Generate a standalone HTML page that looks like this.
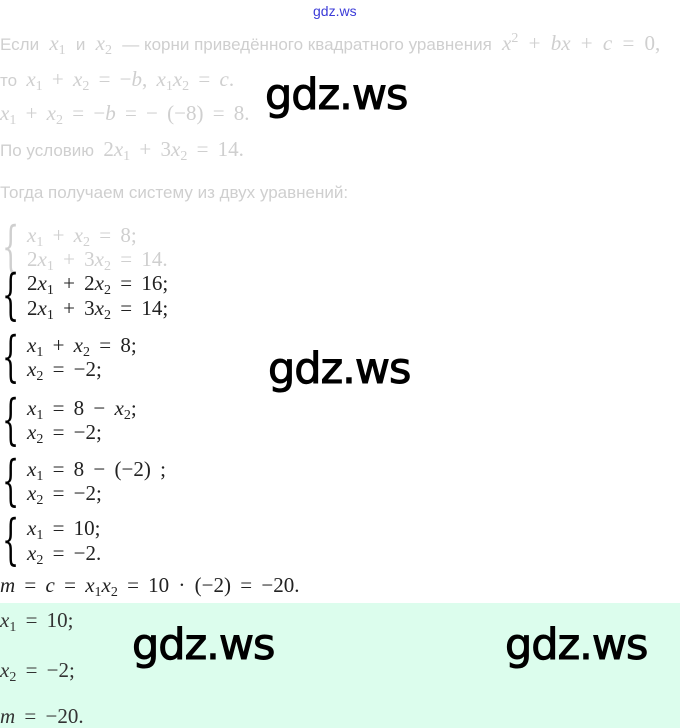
<!DOCTYPE html>
<html><head><meta charset="utf-8"><style>
body{margin:0;width:680px;height:728px;background:#fff;position:relative;overflow:hidden;font-family:"Liberation Serif",serif;}
.t{position:absolute;white-space:nowrap;line-height:24px;font-size:21px;color:#222;word-spacing:4px;}
.s{font-family:"Liberation Sans",sans-serif;font-size:17px;word-spacing:0;}
.f{color:#cfcfcf;}
i{font-style:italic;}
sub{font-size:14px;vertical-align:-4px;line-height:0;}
sup{font-size:14px;vertical-align:8px;line-height:0;}
.br{position:absolute;font-size:54px;line-height:54px;font-family:"DejaVu Serif",serif;font-weight:100;transform:scaleX(0.5);transform-origin:left;}
.wm{position:absolute;font-family:"DejaVu Sans","Liberation Sans",sans-serif;font-size:43px;color:#000;line-height:44px;letter-spacing:-1px;-webkit-text-stroke:1px #000;}
.green{position:absolute;left:0;top:603px;width:680px;height:125px;background:#dcfded;}
</style></head><body>
<div class="t s" style="left:313px;top:1px;font-size:14px;color:#3b3bd8;line-height:20px">gdz.ws</div>
<div class="t f" style="left:0;top:31px;word-spacing:5px"><span class="s">Если</span> <i>x</i><sub>1</sub> <span class="s">и</span> <i>x</i><sub>2</sub> <span class="s">— корни приведённого квадратного уравнения</span> <i>x</i><sup>2</sup> + <i>bx</i> + <i>c</i> = 0,</div>
<div class="t f" style="left:0;top:67px"><span class="s">то</span> <i>x</i><sub>1</sub> + <i>x</i><sub>2</sub> = −<i>b</i>, <i>x</i><sub>1</sub><i>x</i><sub>2</sub> = <i>c</i>.</div>
<div class="t f" style="left:0;top:101px"><i>x</i><sub>1</sub> + <i>x</i><sub>2</sub> = −<i>b</i> = − (−8) = 8.</div>
<div class="t f" style="left:0;top:137px"><span class="s">По условию</span> 2<i>x</i><sub>1</sub> + 3<i>x</i><sub>2</sub> = 14.</div>
<div class="t f s" style="left:0;top:181px">Тогда получаем систему из двух уравнений:</div>

<div class="br f" style="left:2px;top:220px">{</div>
<div class="t f" style="left:27px;top:223px"><i>x</i><sub>1</sub> + <i>x</i><sub>2</sub> = 8;</div>
<div class="t f" style="left:27px;top:247px">2<i>x</i><sub>1</sub> + 3<i>x</i><sub>2</sub> = 14.</div>

<div class="br" style="left:2px;top:268px">{</div>
<div class="t" style="left:27px;top:271px">2<i>x</i><sub>1</sub> + 2<i>x</i><sub>2</sub> = 16;</div>
<div class="t" style="left:27px;top:296px">2<i>x</i><sub>1</sub> + 3<i>x</i><sub>2</sub> = 14;</div>

<div class="br" style="left:2px;top:330px">{</div>
<div class="t" style="left:27px;top:333px"><i>x</i><sub>1</sub> + <i>x</i><sub>2</sub> = 8;</div>
<div class="t" style="left:27px;top:357px"><i>x</i><sub>2</sub> = −2;</div>

<div class="br" style="left:2px;top:393px">{</div>
<div class="t" style="left:27px;top:396px"><i>x</i><sub>1</sub> = 8 − <i>x</i><sub>2</sub>;</div>
<div class="t" style="left:27px;top:420px"><i>x</i><sub>2</sub> = −2;</div>

<div class="br" style="left:2px;top:454px">{</div>
<div class="t" style="left:27px;top:457px"><i>x</i><sub>1</sub> = 8 − (−2) ;</div>
<div class="t" style="left:27px;top:481px"><i>x</i><sub>2</sub> = −2;</div>

<div class="br" style="left:2px;top:513px">{</div>
<div class="t" style="left:27px;top:516px"><i>x</i><sub>1</sub> = 10;</div>
<div class="t" style="left:27px;top:541px"><i>x</i><sub>2</sub> = −2.</div>

<div class="t" style="left:0;top:573px"><i>m</i> = <i>c</i> = <i>x</i><sub>1</sub><i>x</i><sub>2</sub> = 10 · (−2) = −20.</div>

<div class="green"></div>
<div class="t" style="left:0;top:608px;color:#333"><i>x</i><sub>1</sub> = 10;</div>
<div class="t" style="left:0;top:658px;color:#333"><i>x</i><sub>2</sub> = −2;</div>
<div class="t" style="left:0;top:704px;color:#333"><i>m</i> = −20.</div>

<div class="wm" style="left:265px;top:73px">gdz.ws</div>
<div class="wm" style="left:268px;top:347px">gdz.ws</div>
<div class="wm" style="left:132px;top:623px">gdz.ws</div>
<div class="wm" style="left:505px;top:623px">gdz.ws</div>
</body></html>
